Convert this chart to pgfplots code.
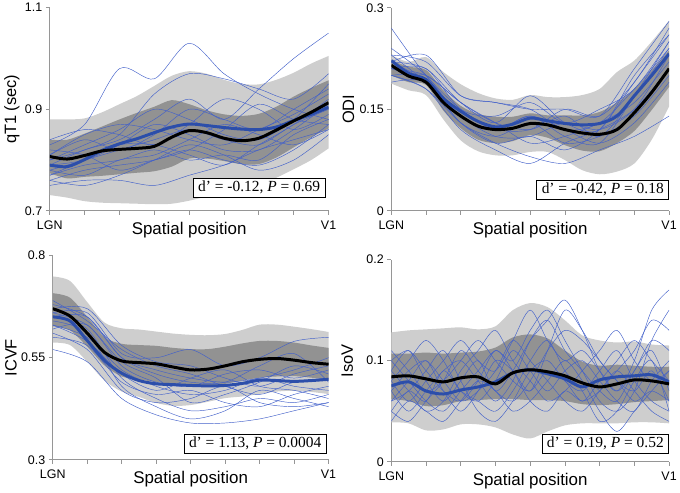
\documentclass[border=0pt]{standalone}
\usepackage{fontspec}
\setmainfont{Liberation Sans}
\newfontfamily\tnr{Liberation Serif}
\usepackage{pgfplots}
\pgfplotsset{compat=1.18}
\usepackage{pgfplotstable}
\usepgfplotslibrary{fillbetween}

\definecolor{axgray}{RGB}{150,150,150}
\definecolor{lightband}{RGB}{206,206,206}
\definecolor{darkband}{RGB}{146,146,146}
\definecolor{thinblue}{RGB}{66,96,202}
\definecolor{thickblue}{RGB}{44,78,170}

% ---------- Panel A: qT1 ----------
\pgfplotstableread{
x   blk   blu   lu    ll    du    dl
0   0.807 0.790 0.880 0.731 0.840 0.774
0.5 0.802 0.787 0.880 0.726 0.840 0.764
1   0.809 0.801 0.882 0.719 0.852 0.767
1.5 0.818 0.819 0.894 0.716 0.866 0.769
2   0.821 0.832 0.910 0.715 0.880 0.772
2.5 0.823 0.842 0.926 0.714 0.893 0.775
3   0.827 0.854 0.946 0.713 0.905 0.778
3.5 0.845 0.865 0.966 0.714 0.918 0.787
4   0.858 0.871 0.975 0.720 0.910 0.803
4.5 0.854 0.868 0.970 0.728 0.898 0.803
5   0.843 0.864 0.958 0.733 0.890 0.798
5.5 0.838 0.861 0.950 0.739 0.887 0.792
6   0.843 0.860 0.949 0.750 0.891 0.792
6.5 0.859 0.865 0.958 0.765 0.905 0.805
7   0.877 0.878 0.972 0.782 0.925 0.825
7.5 0.894 0.890 0.990 0.800 0.942 0.845
8   0.913 0.904 1.005 0.823 0.957 0.862
}\mA
\pgfplotstableread{
x c1 c2 c3 c4 c5 c6 c7 c8 c9 c10 c11 c12 c13 c14 c15 c16
0 0.83 0.79 0.80 0.76 0.75 0.78 0.81 0.77 0.84 0.79 0.82 0.80 0.78 0.76 0.81 0.77
1 0.87 0.82 0.82 0.75 0.76 0.80 0.85 0.79 0.86 0.80 0.81 0.83 0.77 0.78 0.84 0.80
2 0.98 0.84 0.85 0.77 0.76 0.82 0.87 0.80 0.85 0.83 0.78 0.86 0.80 0.79 0.82 0.83
3 0.96 0.88 0.93 0.80 0.75 0.84 0.86 0.82 0.83 0.87 0.80 0.90 0.81 0.80 0.85 0.83
4 1.03 0.92 0.97 0.83 0.77 0.86 0.84 0.80 0.87 0.85 0.82 0.88 0.84 0.82 0.90 0.81
5 0.97 0.88 0.96 0.81 0.79 0.84 0.83 0.81 0.92 0.82 0.86 0.85 0.87 0.80 0.88 0.79
6 0.93 0.94 0.94 0.78 0.82 0.83 0.86 0.80 0.90 0.82 0.91 0.84 0.85 0.79 0.86 0.83
7 0.90 1.00 0.92 0.80 0.84 0.87 0.89 0.85 0.86 0.86 0.88 0.88 0.83 0.82 0.90 0.87
8 0.88 1.05 0.97 0.85 0.86 0.90 0.93 0.88 0.89 0.91 0.87 0.95 0.86 0.87 0.94 0.92
}\tA

% ---------- Panel B: ODI ----------
\pgfplotstableread{
x   blk   blu   lu    ll    du    dl
0   0.215 0.222 0.230 0.188 0.222 0.200
0.5 0.199 0.203 0.220 0.178 0.213 0.190
1   0.190 0.194 0.227 0.171 0.208 0.186
1.5 0.160 0.166 0.205 0.135 0.178 0.148
2   0.140 0.147 0.187 0.104 0.155 0.122
2.5 0.125 0.132 0.174 0.088 0.143 0.105
3   0.120 0.124 0.166 0.082 0.139 0.100
3.5 0.122 0.128 0.164 0.082 0.139 0.103
4   0.129 0.137 0.171 0.087 0.144 0.112
4.5 0.127 0.133 0.168 0.087 0.141 0.108
5   0.120 0.129 0.168 0.075 0.141 0.097
5.5 0.115 0.127 0.171 0.060 0.141 0.089
6   0.113 0.129 0.180 0.054 0.146 0.088
6.5 0.120 0.140 0.205 0.058 0.160 0.100
7   0.145 0.170 0.222 0.070 0.180 0.118
7.5 0.175 0.200 0.250 0.105 0.208 0.149
8   0.210 0.232 0.281 0.154 0.237 0.183
}\mB
\pgfplotstableread{
x c1 c2 c3 c4 c5 c6 c7 c8 c9 c10 c11 c12 c13 c14
0 0.27 0.23 0.21 0.20 0.22 0.24 0.21 0.19 0.22 0.20 0.23 0.21 0.20 0.22
1 0.20 0.22 0.19 0.18 0.21 0.20 0.20 0.19 0.23 0.18 0.19 0.21 0.20 0.19
2 0.15 0.17 0.14 0.13 0.16 0.14 0.16 0.13 0.17 0.12 0.14 0.15 0.16 0.13
3 0.12 0.16 0.11 0.10 0.13 0.12 0.13 0.11 0.16 0.09 0.12 0.14 0.13 0.10
4 0.14 0.15 0.11 0.08 0.17 0.12 0.10 0.13 0.15 0.07 0.14 0.16 0.12 0.11
5 0.11 0.12 0.13 0.07 0.13 0.15 0.11 0.10 0.15 0.10 0.12 0.13 0.14 0.09
6 0.10 0.13 0.12 0.09 0.12 0.14 0.13 0.11 0.14 0.12 0.10 0.15 0.11 0.12
7 0.17 0.18 0.15 0.11 0.20 0.19 0.16 0.14 0.21 0.15 0.13 0.18 0.17 0.19
8 0.25 0.24 0.23 0.14 0.26 0.27 0.22 0.20 0.28 0.21 0.19 0.25 0.24 0.26
}\tB

% ---------- Panel C: ICVF ----------
\pgfplotstableread{
x   blk   blu   lu    ll    du    dl
0   0.670 0.650 0.749 0.587 0.708 0.627
0.5 0.652 0.640 0.738 0.581 0.697 0.617
1   0.610 0.592 0.686 0.540 0.650 0.577
1.5 0.563 0.543 0.636 0.494 0.600 0.531
2   0.542 0.512 0.622 0.467 0.584 0.504
2.5 0.538 0.494 0.619 0.454 0.581 0.497
3   0.535 0.486 0.614 0.439 0.579 0.490
3.5 0.527 0.484 0.609 0.432 0.574 0.486
4   0.520 0.482 0.606 0.434 0.571 0.482
4.5 0.522 0.481 0.605 0.442 0.571 0.481
5   0.530 0.482 0.608 0.451 0.577 0.486
5.5 0.540 0.487 0.618 0.455 0.585 0.494
6   0.546 0.495 0.631 0.461 0.591 0.501
6.5 0.548 0.494 0.631 0.467 0.591 0.504
7   0.544 0.492 0.626 0.469 0.587 0.505
7.5 0.538 0.494 0.620 0.466 0.580 0.501
8   0.534 0.497 0.613 0.461 0.574 0.497
}\mC
\pgfplotstableread{
x c1 c2 c3 c4 c5 c6 c7 c8 c9 c10 c11 c12 c13 c14
0 0.68 0.66 0.65 0.57 0.63 0.69 0.62 0.64 0.67 0.60 0.66 0.63 0.65 0.61
1 0.65 0.66 0.62 0.54 0.60 0.64 0.63 0.61 0.67 0.58 0.63 0.59 0.65 0.57
2 0.55 0.56 0.50 0.45 0.52 0.57 0.53 0.48 0.58 0.49 0.54 0.51 0.55 0.47
3 0.52 0.55 0.45 0.41 0.48 0.53 0.49 0.43 0.54 0.46 0.50 0.47 0.51 0.44
4 0.50 0.57 0.42 0.39 0.46 0.51 0.48 0.40 0.53 0.47 0.44 0.50 0.49 0.45
5 0.49 0.53 0.43 0.39 0.47 0.48 0.51 0.42 0.50 0.44 0.46 0.52 0.49 0.48
6 0.50 0.55 0.45 0.40 0.50 0.46 0.52 0.47 0.48 0.43 0.49 0.48 0.53 0.44
7 0.52 0.59 0.44 0.42 0.48 0.49 0.50 0.45 0.51 0.46 0.53 0.47 0.56 0.43
8 0.55 0.60 0.46 0.44 0.47 0.50 0.52 0.43 0.53 0.48 0.51 0.45 0.49 0.44
}\tC

% ---------- Panel D: IsoV ----------
\pgfplotstableread{
x   blk   blu   lu    ll    du    dl
0   0.084 0.075 0.128 0.039 0.107 0.062
0.5 0.085 0.079 0.130 0.038 0.107 0.060
1   0.082 0.070 0.131 0.031 0.108 0.055
1.5 0.079 0.067 0.132 0.032 0.107 0.056
2   0.083 0.071 0.133 0.037 0.108 0.060
2.5 0.084 0.074 0.131 0.037 0.109 0.061
3   0.077 0.079 0.134 0.034 0.113 0.062
3.5 0.088 0.088 0.150 0.027 0.123 0.062
4   0.091 0.091 0.157 0.023 0.126 0.061
4.5 0.089 0.087 0.153 0.030 0.122 0.061
5   0.085 0.082 0.140 0.036 0.110 0.060
5.5 0.078 0.074 0.125 0.038 0.099 0.057
6   0.074 0.081 0.120 0.038 0.095 0.056
6.5 0.077 0.084 0.118 0.038 0.096 0.057
7   0.081 0.085 0.119 0.039 0.095 0.059
7.5 0.080 0.086 0.116 0.039 0.094 0.060
8   0.077 0.079 0.115 0.038 0.094 0.061
}\mD
\pgfplotstableread{
x c1 c2 c3 c4 c5 c6 c7 c8 c9 c10 c11 c12 c13 c14
0   .09 .07 .05 .10 .06 .08 .04 .11 .07 .09 .06 .05 .08 .10
0.5 .11 .09 .04 .08 .07 .10 .06 .09 .05 .07 .08 .07 .06 .11
1   .08 .10 .06 .06 .09 .12 .05 .07 .07 .05 .10 .06 .08 .09
1.5 .06 .08 .08 .05 .11 .10 .04 .08 .09 .06 .07 .09 .10 .07
2   .08 .06 .11 .07 .08 .07 .06 .10 .10 .09 .05 .07 .12 .06
2.5 .10 .07 .09 .09 .05 .06 .08 .12 .08 .11 .07 .06 .10 .08
3   .07 .09 .07 .11 .04 .08 .07 .10 .06 .13 .10 .05 .09 .11
3.5 .09 .12 .06 .10 .06 .11 .05 .08 .08 .10 .09 .07 .12 .09
4   .12 .10 .08 .13 .09 .09 .06 .07 .12 .08 .07 .10 .15 .06
4.5 .14 .08 .11 .15 .10 .07 .08 .09 .14 .06 .11 .12 .12 .05
5   .16 .06 .13 .12 .08 .09 .10 .08 .11 .07 .15 .09 .10 .07
5.5 .13 .05 .12 .09 .07 .10 .08 .06 .09 .09 .13 .07 .11 .06
6   .09 .07 .10 .06 .09 .08 .05 .08 .07 .11 .10 .04 .09 .07
6.5 .07 .09 .08 .05 .11 .06 .03 .10 .06 .13 .08 .05 .07 .09
7   .10 .11 .07 .07 .08 .05 .05 .12 .09 .10 .06 .08 .09 .07
7.5 .15 .14 .09 .12 .06 .08 .07 .10 .11 .08 .07 .10 .12 .05
8   .17 .13 .06 .15 .05 .10 .09 .08 .07 .09 .06 .05 .11 .04
}\tD

\pgfplotsset{
  panel/.style={
    scale only axis,
    xmin=0, xmax=8,
    axis x line=bottom, axis y line=left,
    axis line style={draw=axgray, line width=0.8pt, -},
    xtick={0,1,...,8},
    xticklabels={LGN,,,,,,,,V1},
    tick style={draw=axgray, line width=0.8pt},
    tick align=outside,
    major tick length=4pt,
    /pgf/number format/assume math mode=true,
    tick label style={font=\fontsize{12.5}{14}\selectfont},
    xticklabel style={anchor=base, yshift=-15pt},
    xlabel={Spatial position},
    xlabel style={font=\fontsize{17}{19}\selectfont, at={(axis description cs:0.5,-0.118)}, anchor=base},
    ylabel style={font=\fontsize{16.5}{18}\selectfont, anchor=center},
  },
  thinl/.style={thinblue, line width=0.45pt, smooth},
  lband/.style={fill=lightband, draw=none},
  dband/.style={fill=darkband, draw=none},
  bluel/.style={thickblue, line width=3pt, smooth},
  blackl/.style={black, line width=3pt, smooth},
}
\tikzset{
  anno/.style={draw=black, line width=0.7pt, fill=white, anchor=south east,
    inner xsep=5pt, inner ysep=3pt, text height=10.5pt, text depth=3pt,
    font=\tnr\fontsize{15.5}{17}\selectfont},
}

\newcommand\bands[1]{%
  \addplot[name path=lu, draw=none, smooth, forget plot] table[x=x,y=lu]{#1};
  \addplot[name path=ll, draw=none, smooth, forget plot] table[x=x,y=ll]{#1};
  \addplot[lband] fill between[of=lu and ll];
  \addplot[name path=du, draw=none, smooth, forget plot] table[x=x,y=du]{#1};
  \addplot[name path=dl, draw=none, smooth, forget plot] table[x=x,y=dl]{#1};
  \addplot[dband] fill between[of=du and dl];
}

\begin{document}
\begin{tikzpicture}
\path (0,0) rectangle (680pt,491pt);

% Panel A
\begin{axis}[panel, at={(50pt,280pt)}, anchor=south west, width=280pt, height=204pt,
  ymin=0.7, ymax=1.1, ytick={0.7,0.9,1.1}, yticklabels={0.7,0.9,1.1},
  ylabel={qT1 (sec)}, ylabel style={at={(axis description cs:-0.136,0.5)}}]
  \bands{\mA}
  \pgfplotsinvokeforeach{c1,c2,c3,c4,c5,c6,c7,c8,c9,c10,c11,c12,c13,c14,c15,c16}{
    \addplot[thinl] table[x=x,y=#1]{\tA};}
  \addplot[bluel] table[x=x,y=blu]{\mA};
  \addplot[blackl] table[x=x,y=blk]{\mA};
  \node[anno] at (rel axis cs:0.989,0.064) {d’ = -0.12, \textit{P} = 0.69};
\end{axis}

% Panel B
\begin{axis}[panel, at={(393pt,280pt)}, anchor=south west, width=279pt, height=204pt,
  ymin=0, ymax=0.3, ytick={0,0.15,0.3}, yticklabels={0,0.15,0.3},
  ylabel={ODI}, ylabel style={at={(axis description cs:-0.154,0.5)}}]
  \bands{\mB}
  \pgfplotsinvokeforeach{c1,c2,c3,c4,c5,c6,c7,c8,c9,c10,c11,c12,c13,c14}{
    \addplot[thinl] table[x=x,y=#1]{\tB};}
  \addplot[bluel] table[x=x,y=blu]{\mB};
  \addplot[blackl] table[x=x,y=blk]{\mB};
  \node[anno] at (rel axis cs:1.0,0.054) {d’ = -0.42, \textit{P} = 0.18};
\end{axis}

% Panel C
\begin{axis}[panel, at={(53pt,30pt)}, anchor=south west, width=277pt, height=205pt,
  ymin=0.3, ymax=0.8, ytick={0.3,0.55,0.8}, yticklabels={0.3,0.55,0.8},
  ylabel={ICVF}, ylabel style={at={(axis description cs:-0.152,0.5)}}]
  \bands{\mC}
  \pgfplotsinvokeforeach{c1,c2,c3,c4,c5,c6,c7,c8,c9,c10,c11,c12,c13,c14}{
    \addplot[thinl] table[x=x,y=#1]{\tC};}
  \addplot[bluel] table[x=x,y=blu]{\mC};
  \addplot[blackl] table[x=x,y=blk]{\mC};
  \node[anno] at (rel axis cs:0.993,0.029) {d’ = 1.13, \textit{P} = 0.0004};
\end{axis}

% Panel D
\begin{axis}[panel, at={(393pt,28pt)}, anchor=south west, width=279pt, height=203pt,
  ymin=0, ymax=0.2, ytick={0,0.1,0.2}, yticklabels={0,0.1,0.2},
  ylabel={IsoV}, ylabel style={at={(axis description cs:-0.158,0.5)}}]
  \bands{\mD}
  \pgfplotsinvokeforeach{c1,c2,c3,c4,c5,c6,c7,c8,c9,c10,c11,c12,c13,c14}{
    \addplot[thinl] table[x=x,y=#1]{\tD};}
  \addplot[bluel] table[x=x,y=blu]{\mD};
  \addplot[blackl] table[x=x,y=blk]{\mD};
  \node[anno] at (rel axis cs:1.0,0.039) {d’ = 0.19, \textit{P} = 0.52};
\end{axis}
\end{tikzpicture}
\end{document}
